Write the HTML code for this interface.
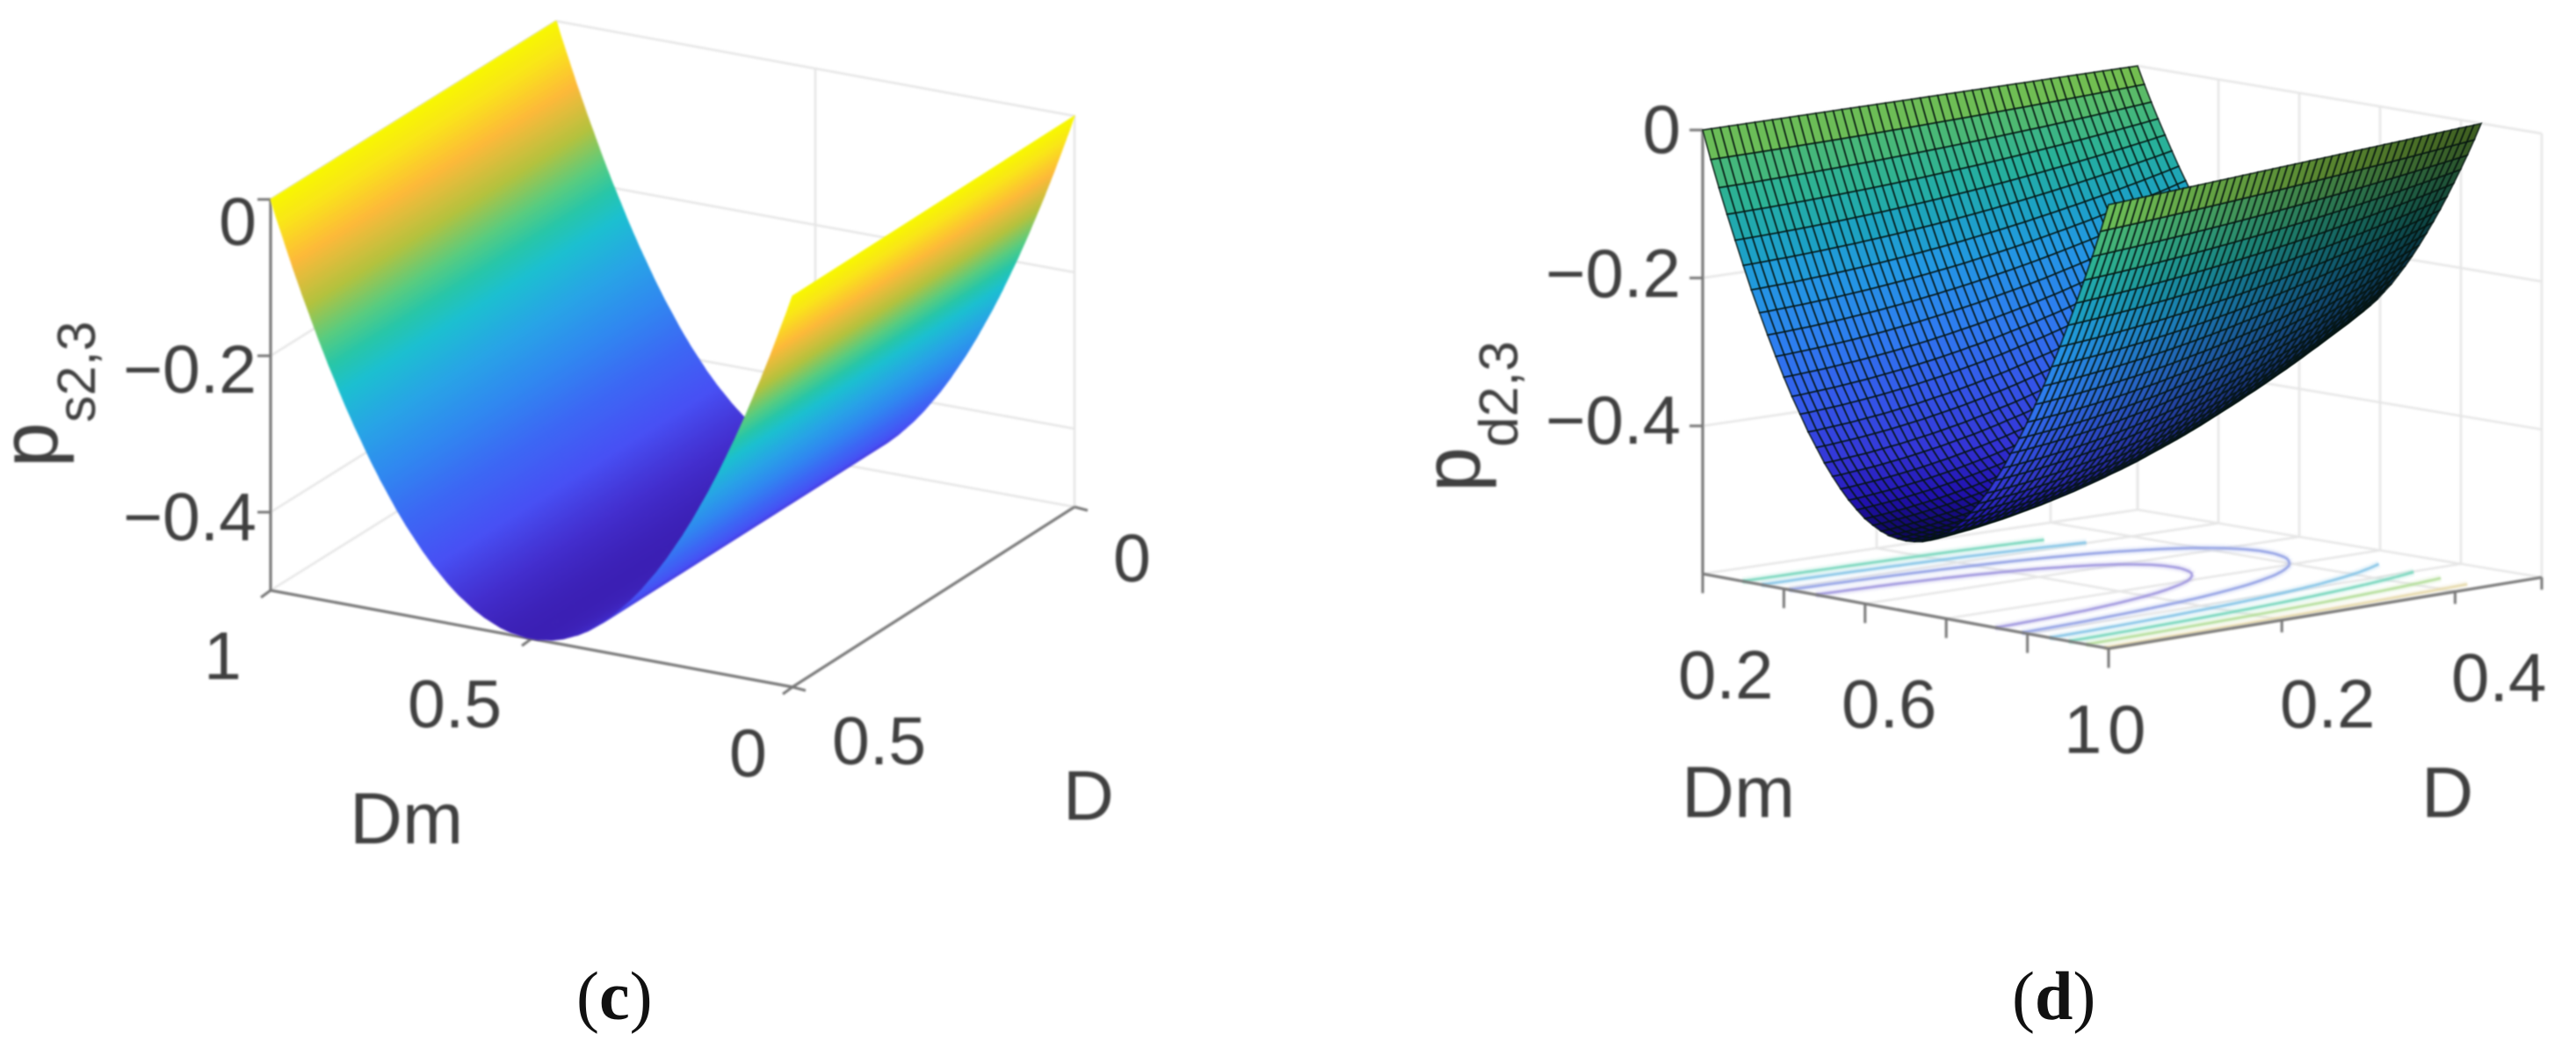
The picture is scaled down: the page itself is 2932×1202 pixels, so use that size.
<!DOCTYPE html>
<html lang="en">
<head>
<meta charset="utf-8">
<title>Surface plots of p_s2,3 and p_d2,3 over Dm and D</title>
<style>
html,body{margin:0;padding:0;background:#fff;}
#figure{display:block;width:2932px;height:1202px;background:#fff;}
.lbl{font-family:"Liberation Sans",sans-serif;fill:#404040;}
.cap{font-family:"Liberation Serif",serif;fill:#111;font-size:78px;}
.soft{filter:blur(1px);}
.mesh{filter:blur(.55px);}
</style>
</head>
<body>
<svg id="figure" xmlns="http://www.w3.org/2000/svg" width="2932" height="1202" viewBox="0 0 2932 1202">
  <g id="panel-c">
    <g id="c-grid" class="soft"></g>
    <g id="c-axes" class="soft"></g>
    <g id="c-surface" class="soft"></g>
    <g class="lbl soft" font-size="77">
      <text x="292" y="279" text-anchor="end">0</text>
      <text x="292" y="447" text-anchor="end">−0.2</text>
      <text x="292" y="615" text-anchor="end">−0.4</text>
      <text x="232" y="773">1</text>
      <text x="464" y="828">0.5</text>
      <text x="830" y="884">0</text>
      <text x="947" y="870">0.5</text>
      <text x="1267" y="662">0</text>
      <text x="398" y="960" font-size="83">Dm</text>
      <text x="1210" y="933" font-size="80">D</text>
      <text transform="translate(65,532) rotate(-90)" font-size="92">p<tspan dy="43" font-size="61">s2,3</tspan></text>
    </g>
    <text class="cap" x="656" y="1160">(<tspan font-weight="bold">c</tspan>)</text>
  </g>
  <g id="panel-d">
    <g id="d-grid" class="soft"></g>
    <g id="d-contours" class="soft"></g>
    <g id="d-axes" class="soft"></g>
    <g id="d-surface" class="mesh"></g>
    <g class="lbl soft" font-size="78">
      <text x="1913" y="174" text-anchor="end">0</text>
      <text x="1913" y="338" text-anchor="end">−0.2</text>
      <text x="1913" y="505" text-anchor="end">−0.4</text>
      <text x="1910" y="795">0.2</text>
      <text x="2096" y="828">0.6</text>
      <text x="2349" y="857">1</text>
      <text x="2399" y="857">0</text>
      <text x="2595" y="828">0.2</text>
      <text x="2790" y="798">0.4</text>
      <text x="1914" y="930" font-size="83">Dm</text>
      <text x="2756" y="930" font-size="82">D</text>
      <text transform="translate(1684,560) rotate(-90)" font-size="92">p<tspan dy="43" font-size="62">d2,3</tspan></text>
    </g>
    <text class="cap" x="2290" y="1160">(<tspan font-weight="bold">d</tspan>)</text>
  </g>
</svg>
<script>
// ---------- panel (c) data ----------
const cDmCount = 101;
const cProfile = [0,-.020,-.039,-.058,-.077,-.095,-.113,-.130,-.147,-.164,-.180,-.196,-.211,-.226,-.241,-.255,-.269,-.282,-.295,-.308,-.320,-.332,-.343,-.354,-.365,-.375,-.385,-.394,-.403,-.412,-.420,-.428,-.435,-.442,-.449,-.455,-.461,-.466,-.471,-.476,-.480,-.484,-.487,-.490,-.493,-.495,-.497,-.498,-.499,-.500,-.500,-.500,-.499,-.498,-.497,-.495,-.493,-.490,-.487,-.484,-.480,-.476,-.471,-.466,-.461,-.455,-.449,-.442,-.435,-.428,-.420,-.412,-.403,-.394,-.385,-.375,-.365,-.354,-.343,-.332,-.320,-.308,-.295,-.282,-.269,-.255,-.241,-.226,-.211,-.196,-.180,-.164,-.147,-.130,-.113,-.095,-.077,-.058,-.039,-.020,0];
const cDValues = [0,.25,.50];
const cZTicks = [0,-.2,-.4];
const cDmTicks = [0,.5,1];
const cDTicks = [0,.5];
const cColorLevels = [0,.03,.077,.128,.17,.2,.23,.28,.33,.38,.43,.47,.5];
const cColorRamp = ['#f7f700','#f9e618','#fdb93a','#b4c23e','#58cc80','#28c6a8','#1cc0d0','#28a4e6','#3088f0','#3c68f4','#4850f4','#4430d0','#3c20b4'];

// ---------- panel (d) data ----------
const dProfile = [0,-.038,-.074,-.108,-.141,-.173,-.204,-.233,-.261,-.288,-.314,-.338,-.360,-.382,-.401,-.420,-.436,-.451,-.464,-.475,-.485,-.492,-.498,-.502,-.504,-.505,-.504,-.502,-.498,-.492,-.485,-.475,-.464,-.451,-.436,-.420,-.401,-.382,-.360,-.338,-.314,-.288,-.261,-.233,-.204,-.173,-.141,-.108,-.074,-.038,0];
const dDepthByD = [1,.999,.997,.995,.993,.991,.988,.985,.982,.979,.975,.971,.967,.963,.958,.953,.948,.943,.937,.931,.925,.918,.912,.905,.898,.890,.882,.874,.866,.858,.849,.840,.831,.821,.811,.801,.791,.780,.770,.759,.747,.736,.724,.712,.699,.687,.674,.661,.648,.634,.620];
const dZTicks = [0,-.2,-.4];
const dDmTicks = [0,.2,.4,.6,.8,1];
const dDTicks = [0,.2,.4,.5];
const dContourLevels = [-.40,-.33,-.24,-.17,-.10,-.02];
const dContourColors = ['#a49ce0','#98a6e6','#8cc8e8','#7ed8c0','#b8e0a0','#e8dcb0'];
const dContourBackLimit = [1,1,.72,.68,0,0];
const dColorLevels = [0,.05,.1,.15,.2,.28,.35,.42,.47,.5];
const dColorRamp = ['#80c044','#48b878','#26b09c','#1ca2c2','#2298e2','#2e7cf0','#3458ea','#3434d6','#2010ac','#100860'];

const SVG_NS = 'http://www.w3.org/2000/svg';

function lerpColor(levels, ramp, v, shade) {
  let i = 0;
  while (i < levels.length - 2 && v > levels[i + 1]) i++;
  const f = Math.max(0, Math.min(1, (v - levels[i]) / (levels[i + 1] - levels[i])));
  const a = parseInt(ramp[i].slice(1), 16);
  const b = parseInt(ramp[i + 1].slice(1), 16);
  const ch = s => Math.round((((a >> s) & 255) * (1 - f) + ((b >> s) & 255) * f) * shade);
  return 'rgb(' + ch(16) + ',' + ch(8) + ',' + ch(0) + ')';
}

// Axis function: maps (Dm, D, p) to figure pixels.
function makeProjection(box, dMax, zScale) {
  return function (dm, d, p) {
    const u = d / dMax;
    const x = (box.a[0] * (1 - dm) + box.b[0] * dm) * (1 - u) + (box.c[0] * (1 - dm) + box.e[0] * dm) * u;
    const y = (box.a[1] * (1 - dm) + box.b[1] * dm) * (1 - u) + (box.c[1] * (1 - dm) + box.e[1] * dm) * u;
    return [x, y - p * zScale];
  };
}

function makeLine(parent, p1, p2, color, width) {
  const el = document.createElementNS(SVG_NS, 'line');
  el.setAttribute('x1', p1[0].toFixed(1));
  el.setAttribute('y1', p1[1].toFixed(1));
  el.setAttribute('x2', p2[0].toFixed(1));
  el.setAttribute('y2', p2[1].toFixed(1));
  el.setAttribute('stroke', color);
  el.setAttribute('stroke-width', width);
  parent.appendChild(el);
  return el;
}

function drawBox(spec) {
  const P = spec.project, grid = spec.gridEl, axes = spec.axesEl;
  const gridColor = '#e6e6e6', axisColor = '#777777';
  spec.zTicks.forEach(function (z) {
    const back = makeLine(grid, P(0, spec.wallD, z), P(1, spec.wallD, z), gridColor, 2.5);
    
    
    const side = makeLine(grid, P(spec.wallDm, 0, z), P(spec.wallDm, spec.dMax, z), gridColor, 2.5);
    
    
  });
  spec.dmTicks.forEach(function (dm) {
    const v = makeLine(grid, P(dm, spec.wallD, 0), P(dm, spec.wallD, spec.zFloor), gridColor, 2.5);
    
    
    const f = makeLine(grid, P(dm, 0, spec.zFloor), P(dm, spec.dMax, spec.zFloor), gridColor, 2.5);
    
    
    const t = P(dm, spec.frontD, spec.zFloor);
    const tick = makeLine(axes, t, [t[0] + spec.dmTick[0], t[1] + spec.dmTick[1]], axisColor, 3);
    
    
  });
  spec.dTicks.forEach(function (d) {
    const v = makeLine(grid, P(spec.wallDm, d, 0), P(spec.wallDm, d, spec.zFloor), gridColor, 2.5);
    
    
    const f = makeLine(grid, P(0, d, spec.zFloor), P(1, d, spec.zFloor), gridColor, 2.5);
    
    
    const t = P(spec.sideDm, d, spec.zFloor);
    const tick = makeLine(axes, t, [t[0] + spec.dTick[0], t[1] + spec.dTick[1]], axisColor, 3);
    
    
  });
  spec.zTicks.forEach(function (z) {
    const t = P(spec.wallDm, spec.frontD, z);
    const tick = makeLine(axes, t, [t[0] - 15, t[1]], axisColor, 3);
    
    
  });
  const zAxis = makeLine(axes, P(spec.wallDm, spec.frontD, 0), P(spec.wallDm, spec.frontD, spec.zFloor), axisColor, 3);
  
  
  const dmAxis = makeLine(axes, P(0, spec.frontD, spec.zFloor), P(1, spec.frontD, spec.zFloor), axisColor, 3);
  
  
  const dAxis = makeLine(axes, P(spec.sideDm, 0, spec.zFloor), P(spec.sideDm, spec.dMax, spec.zFloor), axisColor, 3);
  
  
}

function makeQuad(parent, pts, fill) {
  const q = document.createElementNS(SVG_NS, 'polygon');
  q.setAttribute('points', pts.map(function (p) { return p[0].toFixed(1) + ',' + p[1].toFixed(1); }).join(' '));
  q.setAttribute('fill', fill);
  parent.appendChild(q);
  return q;
}

// ---------- panel (c) ----------
const projectC = makeProjection({a:[1223,132], b:[633,24], c:[902,337], e:[308,227]}, 0.5, 890);
drawBox({
  project: projectC, gridEl: document.getElementById('c-grid'), axesEl: document.getElementById('c-axes'),
  zTicks: cZTicks, dmTicks: cDmTicks, dTicks: cDTicks, zFloor: -.5, dMax: .5,
  wallD: 0, wallDm: 1, frontD: .5, sideDm: 0, dmTick: [-11, 8], dTick: [15, 4]
});
(function () {
  const layer = document.getElementById('c-surface');
  const sub = 4;
  for (let i = cDmCount - 2; i >= 0; i--) {
    for (let s = sub - 1; s >= 0; s--) {
      const f0 = s / sub, f1 = (s + 1) / sub;
      const dm0 = (i + f0) / (cDmCount - 1), dm1 = (i + f1) / (cDmCount - 1);
      const p0 = cProfile[i] + (cProfile[i + 1] - cProfile[i]) * f0;
      const p1 = cProfile[i] + (cProfile[i + 1] - cProfile[i]) * f1;
      const col = lerpColor(cColorLevels, cColorRamp, -(p0 + p1) / 2, 1);
      for (let j = 0; j < cDValues.length - 1; j++) {
        const quad = makeQuad(layer, [
          projectC(dm0, cDValues[j], p0),
          projectC(dm1, cDValues[j], p1),
          projectC(dm1, cDValues[j + 1], p1),
          projectC(dm0, cDValues[j + 1], p0)
        ], col);
        quad.setAttribute('stroke', col);
        quad.setAttribute('stroke-width', '1');
        
        
      }
    }
  }
})();

// ---------- panel (d) ----------
const projectD = makeProjection({a:[1938,148], b:[2400,233], c:[2433,75], e:[2893,152]}, 0.5, 842);
drawBox({
  project: projectD, gridEl: document.getElementById('d-grid'), axesEl: document.getElementById('d-axes'),
  zTicks: dZTicks, dmTicks: dDmTicks, dTicks: dDTicks, zFloor: -.6, dMax: .5,
  wallD: .5, wallDm: 0, frontD: 0, sideDm: 1, dmTick: [0, 22], dTick: [0, 14]
});
function dSurfaceP(i, j) {
  const t = i / (dProfile.length - 1), u = j / (dDepthByD.length - 1);
  return dProfile[i] * dDepthByD[j] + .027 * t * u;
}
function dSurfaceD(i, j) {
  const t = i / (dProfile.length - 1), u = j / (dDepthByD.length - 1);
  return .5 * u * (1 - .14 * t);
}
(function () {
  const layer = document.getElementById('d-surface');
  const nI = dProfile.length, nJ = dDepthByD.length;
  for (let i = 0; i < nI - 1; i++) {
    const t0 = i / (nI - 1), t1 = (i + 1) / (nI - 1);
    const tm = (t0 + t1) / 2;
    const ramp = Math.max(0, Math.min(1, (tm - .47) / .08));
    for (let j = nJ - 2; j >= 0; j--) {
      const u = (j + .5) / (nJ - 1);
      const pm = (dSurfaceP(i, j) + dSurfaceP(i + 1, j) + dSurfaceP(i, j + 1) + dSurfaceP(i + 1, j + 1)) / 4;
      const shade = Math.max(.08, 1 - ramp * u * (.5 + .9 * (1 - tm)));
      const quad = makeQuad(layer, [
        projectD(t0, dSurfaceD(i, j), dSurfaceP(i, j)),
        projectD(t1, dSurfaceD(i + 1, j), dSurfaceP(i + 1, j)),
        projectD(t1, dSurfaceD(i + 1, j + 1), dSurfaceP(i + 1, j + 1)),
        projectD(t0, dSurfaceD(i, j + 1), dSurfaceP(i, j + 1))
      ], lerpColor(dColorLevels, dColorRamp, Math.max(0, -pm), shade));
      quad.setAttribute('stroke', '#04140f');
      quad.setAttribute('stroke-width', '1.9');
      quad.setAttribute('stroke-opacity', '.72');
      
      
    }
  }
  // Contours: marching squares over the same grid, projected to the floor.
  const contourLayer = document.getElementById('d-contours');
  dContourLevels.forEach(function (level, k) {
    let path = '';
    const floorPoint = function (i, j) {
      return projectD(i / (nI - 1), dSurfaceD(i, j), -.6);
    };
    for (let i = 0; i < nI - 1; i++) {
      for (let j = 0; j < nJ - 1; j++) {
        if (i / (nI - 1) < .5 && j / (nJ - 1) >= dContourBackLimit[k]) continue;
        const corners = [[i, j], [i + 1, j], [i + 1, j + 1], [i, j + 1]];
        const crossings = [];
        for (let e = 0; e < 4; e++) {
          const a = corners[e], b = corners[(e + 1) % 4];
          const va = dSurfaceP(a[0], a[1]) - level, vb = dSurfaceP(b[0], b[1]) - level;
          if ((va < 0) !== (vb < 0)) {
            const f = va / (va - vb);
            const pa = floorPoint(a[0], a[1]), pb = floorPoint(b[0], b[1]);
            crossings.push([pa[0] + (pb[0] - pa[0]) * f, pa[1] + (pb[1] - pa[1]) * f]);
          }
        }
        if (crossings.length >= 2) {
          path += 'M' + crossings[0][0].toFixed(1) + ' ' + crossings[0][1].toFixed(1) + 'L' + crossings[1][0].toFixed(1) + ' ' + crossings[1][1].toFixed(1);
        }
      }
    }
    const halo = document.createElementNS(SVG_NS, 'path');
    halo.setAttribute('d', path);
    halo.setAttribute('fill', 'none');
    halo.setAttribute('stroke', dContourColors[k]);
    halo.setAttribute('stroke-width', '9');
    halo.setAttribute('stroke-opacity', '.16');
    
    
    contourLayer.appendChild(halo);
    const line = document.createElementNS(SVG_NS, 'path');
    line.setAttribute('d', path);
    line.setAttribute('fill', 'none');
    line.setAttribute('stroke', dContourColors[k]);
    line.setAttribute('stroke-width', '3');
    
    
    contourLayer.appendChild(line);
  });
})();
</script>
</body>
</html>
